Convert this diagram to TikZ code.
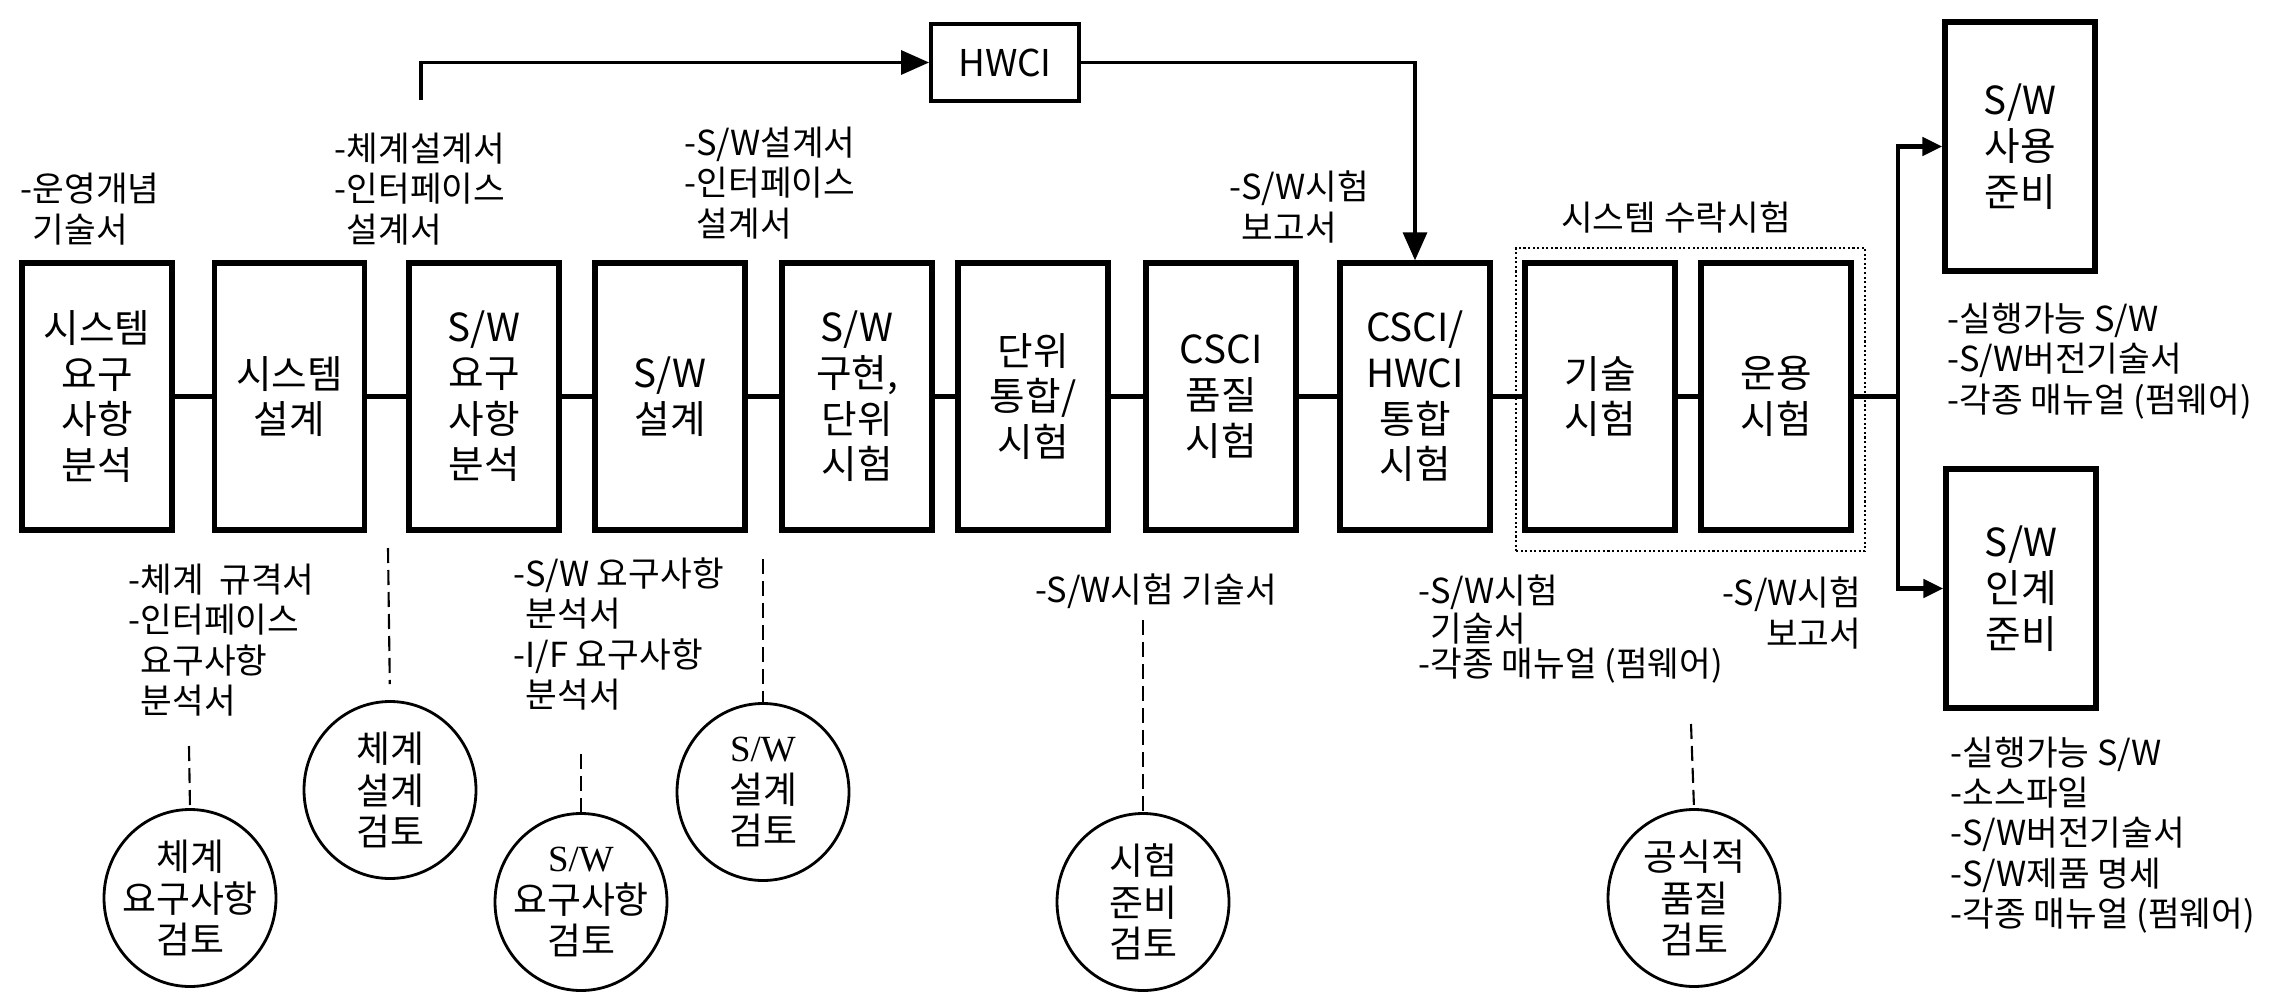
\documentclass[tikz,border=0pt]{standalone}
\usepackage{fontspec}
\setmainfont{Noto Sans CJK KR}
\newfontfamily\serifsw{Liberation Serif}
\usepackage{tikz}
\usetikzlibrary{arrows.meta, positioning, shapes.geometric}

\begin{document}
\begin{tikzpicture}[
  font=\fontsize{9.8}{11.5}\selectfont,
  stage/.style={
    draw=black,
    line width=1.5pt,
    minimum width=1.5cm,
    minimum height=2.67cm,
    inner sep=1pt,
    align=center,
    font=\fontsize{11}{13}\selectfont
  },
  review/.style={
    draw=black,
    ellipse,
    line width=0.8pt,
    minimum width=1.72cm,
    minimum height=1.77cm,
    inner xsep=-4pt,
    inner ysep=0pt,
    align=center,
    font=\fontsize{10.5}{11.8}\selectfont
  },
  doc/.style={
    align=left,
    inner sep=0pt,
    anchor=west
  },
  flow/.style={
    line width=1.3pt
  },
  feed/.style={
    line width=0.9pt,
    -{Triangle[length=0.28cm, width=0.24cm]}
  },
  branch/.style={
    line width=1.3pt,
    -{Triangle[length=0.2cm, width=0.18cm]}
  },
  link/.style={
    line width=0.6pt,
    dash pattern=on 0.15cm off 0.07cm
  }
]
\useasboundingbox (0,0) rectangle (22.84,10.01);

% Development stages
\node[stage] (sysreq) at (0.97,6.045) {시스템\\요구\\사항\\분석};
\node[stage] (sysdes) at (2.895,6.045) {시스템\\설계};
\node[stage] (swreq) at (4.84,6.045) {S/W\\요구\\사항\\분석};
\node[stage] (swdes) at (6.70,6.045) {S/W\\설계};
\node[stage] (swimpl) at (8.57,6.045) {S/W\\구현,\\단위\\시험};
\node[stage] (unitint) at (10.33,6.045) {단위\\통합/\\시험};
\node[stage] (csciqt) at (12.21,6.045) {CSCI\\품질\\시험};
\node[stage] (hwint) at (14.15,6.045) {CSCI/\\HWCI\\통합\\시험};

% ---------------- System acceptance ----------------
\node[
  draw,
  line width=0.6pt,
  dash pattern=on 0.6pt off 0.7pt,
  minimum width=3.49cm,
  minimum height=3.03cm
] (accept) at (16.905,6.015) {};
\node (accepttitle) at (16.76,7.84) {시스템 수락시험};
\node[stage] (techtest) at (16.00,6.045) {기술\\시험};
\node[stage] (opstest) at (17.76,6.045) {운용\\시험};

% ---------------- Delivery ----------------
\node[stage, minimum height=2.49cm] (swuse) at (20.20,8.545) {S/W\\사용\\준비};
\node[stage, minimum height=2.39cm] (swhand) at (20.21,4.125) {S/W\\인계\\준비};

% Hardware item
\node[
  draw,
  line width=1.1pt,
  minimum width=1.48cm,
  minimum height=0.77cm,
  font=\fontsize{10.5}{12}\selectfont
] (hwci) at (10.05,9.385) {HWCI};

% Main flow
\draw[flow] (sysreq.east) -- (sysdes.west);
\draw[flow] (sysdes.east) -- (swreq.west);
\draw[flow] (swreq.east) -- (swdes.west);
\draw[flow] (swdes.east) -- (swimpl.west);
\draw[flow] (swimpl.east) -- (unitint.west);
\draw[flow] (unitint.east) -- (csciqt.west);
\draw[flow] (csciqt.east) -- (hwint.west);
\draw[flow] (hwint.east) -- (techtest.west);
\draw[flow] (techtest.east) -- (opstest.west);

\coordinate (split) at (18.98,6.045);
\draw[flow] (opstest.east) -- (split);
\draw[branch] (split) |- (swuse.west);
\draw[branch] (split) |- (swhand.west);

% HWCI path
\coordinate (hwtap) at (4.21,9.01);
\draw[feed] (hwtap) |- (hwci.west);
\draw[feed] (hwci.east) -| (hwint.north);

% ---------------- Documents above ----------------
\node[doc] (opsdoc) at (0.20,7.92) {-운영개념\\\hphantom{-}기술서};
\node[doc] (sysdesdoc) at (3.34,8.12) {-체계설계서\\-인터페이스\\\hphantom{-}설계서};
\node[doc] (swdesdoc) at (6.84,8.18) {-S/W설계서\\-인터페이스\\\hphantom{-}설계서};
\node[doc] (hwtestdoc) at (12.29,7.94) {-S/W시험\\\hphantom{-}보고서};
\node[doc] (usedoc) at (19.47,6.40) {-실행가능 S/W\\-S/W버전기술서\\-각종 매뉴얼 (펌웨어)};

% ---------------- Documents below ----------------
\node[doc] (specdoc) at (1.28,3.61) {-체계~~규격서\\-인터페이스\\\hphantom{-}요구사항\\\hphantom{-}분석서};
\node[doc] (swreqdoc) at (5.13,3.67) {-S/W 요구사항\\\hphantom{-}분석서\\-I/F 요구사항\\\hphantom{-}분석서};
\node (testdescdoc) at (11.56,4.10) {-S/W시험 기술서};
\node[doc, font=\fontsize{9.8}{9.8}\selectfont] (techdoc) at (14.18,3.72) {-S/W시험\\\hphantom{-}기술서\\-각종 매뉴얼 (펌웨어)};
\node[doc, anchor=east, align=right] (opsdoc2) at (18.62,3.88) {-S/W시험\\보고서};
\node[doc] (handdoc) at (19.50,1.66) {-실행가능 S/W\\-소스파일\\-S/W버전기술서\\-S/W제품 명세\\-각종 매뉴얼 (펌웨어)};

% ---------------- Reviews ----------------
\node[review] (sysreqrev) at (1.90,1.03) {체계\\요구사항\\검토};
\node[review] (sysdesrev) at (3.90,2.11) {체계\\설계\\검토};
\node[review] (swreqrev) at (5.81,0.99) {{\serifsw S/W}\\요구사항\\검토};
\node[review] (swdesrev) at (7.63,2.09) {{\serifsw S/W}\\설계\\검토};
\node[review] (testrev) at (11.43,0.99) {시험\\준비\\검토};
\node[review] (qualrev) at (16.94,1.03) {공식적\\품질\\검토};

\coordinate (sysreqtop) at (1.89,2.55);
\coordinate (sysdestop) at (3.88,4.53);
\coordinate (swreqtop) at (5.81,2.47);
\coordinate (swdestop) at (7.63,4.42);
\coordinate (testtop) at (11.43,3.81);
\coordinate (qualtop) at (16.91,2.77);

\draw[link] (sysreqtop) -- (sysreqrev.north);
\draw[link, shorten >=0.16cm] (sysdestop) -- (sysdesrev.north);
\draw[link] (swreqtop) -- (swreqrev.north);
\draw[link] (swdestop) -- (swdesrev.north);
\draw[link] (testtop) -- (testrev.north);
\draw[link] (qualtop) -- (qualrev.north);

\end{tikzpicture}
\end{document}
